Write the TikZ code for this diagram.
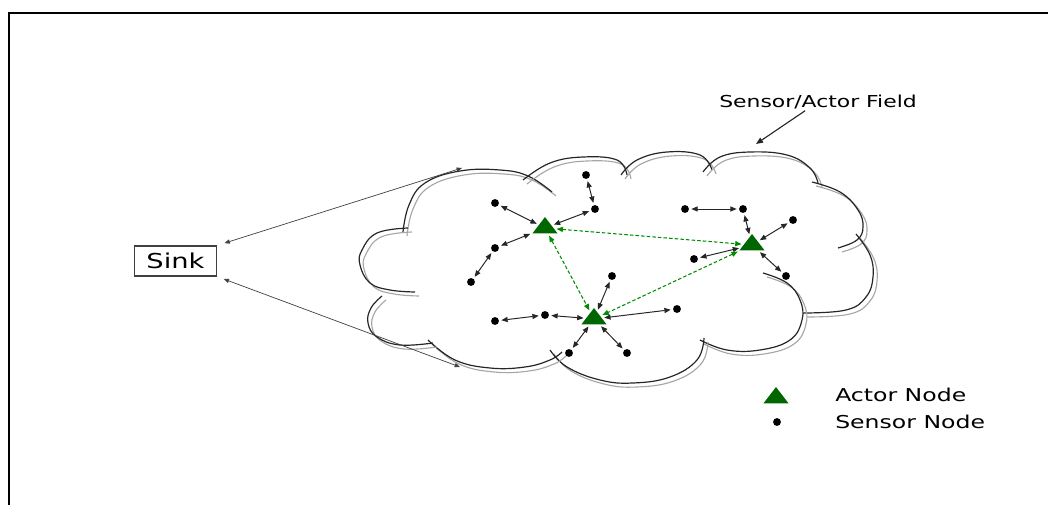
\documentclass[tikz,border=0pt]{standalone}
\usepackage{fontspec}
\setsansfont{DejaVu Sans}
\usepackage{tikz}
\usetikzlibrary{arrows.meta,shapes.geometric}

\newcommand\cloudlobe[1]{%
  \draw[lobe shade] plot[smooth,tension=.7] coordinates {#1};
  \draw[lobe line] plot[smooth,tension=.7] coordinates {#1};}

\begin{document}
\begin{tikzpicture}[
    x=0.025cm,y=-0.025cm,
    lobe line/.style={line width=.85pt,draw=black!85},
    lobe shade/.style={line width=.8pt,draw=black!35,shift={(4,4)}},
    sensor/.style={circle,fill=black,inner sep=0pt,minimum size=5.6pt},
    actor/.style={regular polygon,regular polygon sides=3,fill=actorgreen,
      inner sep=0pt,minimum size=15.6pt,xscale=1.33},
    link/.style={line width=.7pt,black!85,{Triangle[length=4.5pt,width=3.6pt]}-{Triangle[length=4.5pt,width=3.6pt]},
      shorten <=1.5pt,shorten >=1.5pt},
    radio/.style={line width=.75pt,linkgreen,dash pattern=on 2.5pt off 1.5pt,
      {Triangle[length=4.5pt,width=3.6pt]}-{Triangle[length=4.5pt,width=3.6pt]},shorten <=1.5pt,shorten >=1.5pt},
    uplink/.style={line width=.5pt,black!75,{Triangle[length=3.8pt,width=3pt]}-{Triangle[length=3.8pt,width=3pt]}},
    label text/.style={font=\sffamily\fontsize{12.6}{14}\selectfont,xscale=1.33,inner sep=1pt}
  ]
  \colorlet{actorgreen}{green!40!black}
  \colorlet{linkgreen}{green!55!black}
  \useasboundingbox (0,0) rectangle (1048,505);
  \draw[line width=1.8pt] (9,505) -- (9,13) -- (1048,13);

  % the field
  \cloudlobe{(403,232) (409,205) (425,183) (460,171) (500,170) (528,176) (552,192)}
  \cloudlobe{(523,180) (550,163) (583,157) (617,160) (627,175)}
  \cloudlobe{(621,175) (637,160) (667,152) (700,155) (712,170)}
  \cloudlobe{(703,172) (720,157) (750,152) (787,155) (810,168) (818,183)}
  \cloudlobe{(812,182) (840,192) (858,210) (863,227) (857,240) (838,248)}
  \cloudlobe{(856,234) (870,255) (873,277) (866,297) (846,310) (803,313)}
  \cloudlobe{(763,273) (787,283) (800,300) (802,320) (790,340) (760,350) (727,350) (700,340)}
  \cloudlobe{(550,350) (567,367) (600,380) (633,383) (670,377) (697,360) (704,338)}
  \cloudlobe{(428,340) (455,360) (490,368) (525,367) (550,360) (562,352)}
  \cloudlobe{(382,296) (371,308) (368,323) (377,337) (400,345) (433,343)}
  \cloudlobe{(408,228) (377,233) (362,250) (360,265) (370,283) (390,290) (415,292)}

  \node[actor] (actA) at (545,228) {};
  \node[actor] (actB) at (752,245) {};
  \node[actor] (actC) at (594,319) {};
  \foreach \n/\x/\y in {sA1/495/203,sA2/595/209,sA3/586/175,sA4/495/248,sA5/471/282,
      sB1/685/209,sB2/743/209,sB3/793/220,sB4/694/259,sB5/786/276,
      sC1/612/276,sC2/545/315,sC3/495/321,sC4/677/309,sC5/569/353,sC6/627/353}
    \node[sensor] (\n) at (\x,\y) {};
  \foreach \a/\b in {sA1/actA,sA2/actA,sA3/sA2,sA4/actA,sA5/sA4,
      sB1/sB2,sB2/actB,sB3/actB,sB4/actB,sB5/actB,
      sC1/actC,sC2/actC,sC3/sC2,sC4/actC,sC5/actC,sC6/actC}
    \draw[link] (\a) -- (\b);
  \draw[radio] (actA) -- (actB);
  \draw[radio] (actA) -- (actC);
  \draw[radio] (actB) -- (actC);

  % sink and labels
  \node[label text,font=\sffamily\fontsize{14.6}{16}\selectfont,draw=black!75,line width=.8pt,
    minimum width=43.7pt,minimum height=21.3pt] (sink) at (175.5,261) {Sink};
  \coordinate (fieldtop) at (462,168);
  \coordinate (fieldbot) at (460,367);
  \draw[uplink,shorten <=5.5pt] (sink.north east) -- (fieldtop);
  \draw[uplink,shorten <=5pt] (sink.south east) -- (fieldbot);

  \node[label text,font=\sffamily\fontsize{11.7}{13}\selectfont] (field) at (818,102) {Sensor/Actor Field};
  \coordinate (fieldtip) at (756,144);
  \draw[line width=.8pt,black!85,-{Triangle[length=5pt,width=4pt]}] (field) -- (fieldtip);

  % legend
  \node[actor] (legact) at (776,398) {};
  \node[sensor] (legsen) at (777,422) {};
  \node[label text,anchor=base west] (legacttext) at (833,401) {Actor Node};
  \node[label text,anchor=base west] (legsentext) at (833,428) {Sensor Node};
\end{tikzpicture}
\end{document}
